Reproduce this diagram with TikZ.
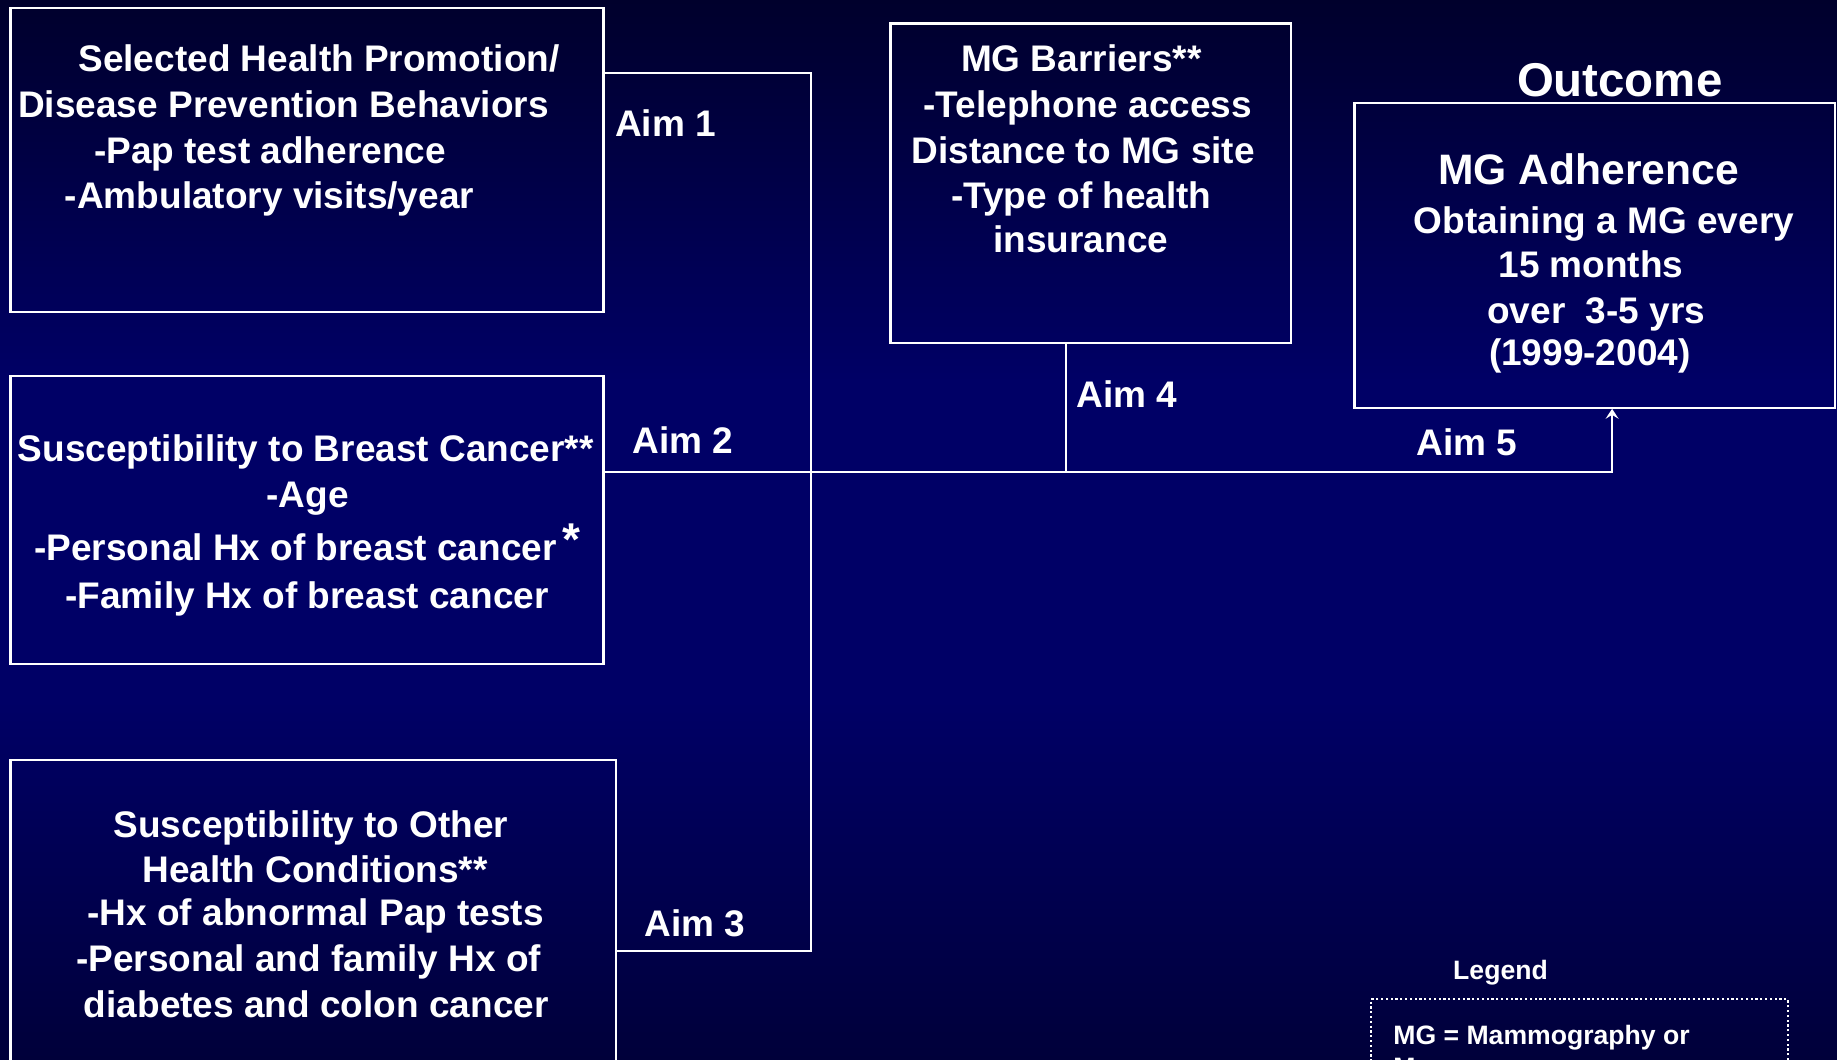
\documentclass[tikz,border=0pt]{standalone}
\usepackage{fontspec}
\setmainfont{Liberation Sans}
\usetikzlibrary{fit,arrows.meta}
\definecolor{bgtop}{RGB}{0,0,44}
\definecolor{bgmid}{RGB}{0,0,102}
\definecolor{bgbot}{RGB}{0,0,58}
\tikzset{
  box/.style={draw=white, line width=1.1pt, inner sep=0pt},
  legbox/.style={draw=white, line width=1pt, dash pattern=on 1.1pt off 1.3pt, inner sep=0pt},
  txt/.style={text=white, inner sep=0pt, font=\bfseries\fontsize{18.5}{22}\selectfont},
  bigtxt/.style={text=white, inner sep=0pt, font=\bfseries\fontsize{23.7}{28}\selectfont},
  headtxt/.style={text=white, inner sep=0pt, font=\bfseries\fontsize{21.3}{25}\selectfont},
  smalltxt/.style={text=white, inner sep=0pt, font=\bfseries\fontsize{13.3}{16}\selectfont},
  conn/.style={draw=white, line width=1.1pt},
}
\begin{document}
\begin{tikzpicture}[x=0.5pt,y=-0.5pt]
\useasboundingbox (0,0) rectangle (1837,1060);
\shade[top color=bgtop, bottom color=bgmid] (0,0) rectangle (1837,382);
\fill[bgmid] (0,380) rectangle (1837,702);
\shade[top color=bgmid, bottom color=bgbot] (0,700) rectangle (1837,1060);

% boxes
\node[box, fit={(10.5,8.2) (603.4,311.6)}] (b1) {};
\node[box, fit={(10.5,376) (603.4,664.3)}] (b2) {};
\node[box, fit={(10.5,760.3) (616.3,1080)}] (b3) {};
\node[box, fit={(890.4,23.4) (1291.1,343.3)}] (b4) {};
\node[box, fit={(1354.4,103.1) (1834.7,407.7)}] (b5) {};
\node[legbox, fit={(1371,999.4) (1788,1080)}] (leg) {};

% box 1 text
\node[txt, anchor=base] (b1a) at (319,71.6) {Selected Health Promotion/};
\node[txt, anchor=base] (b1b) at (283.5,117.3) {Disease Prevention Behaviors};
\node[txt, anchor=base] (b1c) at (270,163) {-Pap test adherence};
\node[txt, anchor=base] (b1d) at (269.5,208.7) {-Ambulatory visits/year};

% box 2 text
\node[txt, anchor=base] (b2a) at (305.8,461.7) {Susceptibility to Breast Cancer**};
\node[txt, anchor=base] (b2b) at (307.5,507.4) {-Age};
\node[txt, anchor=base] (b2c) at (307.5,560) {-Personal Hx of breast cancer\,\raisebox{0.12em}{\fontsize{23}{23}\selectfont *}};
\node[txt, anchor=base] (b2d) at (307,608.2) {-Family Hx of breast cancer};

% box 3 text
\node[txt, anchor=base] (b3a) at (311,837.8) {Susceptibility to Other};
\node[txt, anchor=base] (b3b) at (315,882.3) {Health Conditions**};
\node[txt, anchor=base] (b3c) at (315.7,925.7) {-Hx of abnormal Pap tests};
\node[txt, anchor=base] (b3d) at (308.7,971.4) {-Personal and family Hx of};
\node[txt, anchor=base] (b3e) at (316.3,1017) {diabetes and colon cancer};

% box 4 text
\node[txt, anchor=base] (b4a) at (1081.4,71.6) {MG Barriers**};
\node[txt, anchor=base] (b4b) at (1087.8,117.3) {-Telephone access};
\node[txt, anchor=base] (b4c) at (1083.1,163) {Distance to MG site};
\node[txt, anchor=base] (b4d) at (1081.4,208.7) {-Type of health};
\node[txt, anchor=base] (b4e) at (1080.8,252) {insurance};

% outcome
\node[bigtxt, anchor=base] (out) at (1619.7,96.7) {Outcome};
\node[headtxt, anchor=base] (b5a) at (1588.7,184.9) {MG Adherence};
\node[txt, anchor=base] (b5b) at (1603.9,233.3) {Obtaining a MG every};
\node[txt, anchor=base] (b5c) at (1591,277.8) {15 months};
\node[txt, anchor=base] (b5d) at (1596.3,323.5) {over\ \ 3-5 yrs};
\node[txt, anchor=base] (b5e) at (1589.8,365.6) {(1999-2004)};

% aims
\node[txt, anchor=base] (aim1) at (665.5,136) {Aim 1};
\node[txt, anchor=base] (aim2) at (683,453.5) {Aim 2};
\node[txt, anchor=base] (aim3) at (694.7,936.2) {Aim 3};
\node[txt, anchor=base] (aim4) at (1127,407.8) {Aim 4};
\node[txt, anchor=base] (aim5) at (1466.8,455.9) {Aim 5};

% legend
\node[smalltxt, anchor=base] (legt) at (1500.5,979.5) {Legend};
\node[smalltxt, anchor=base west] (leg1) at (1393,1044) {MG = Mammography or};
\node[smalltxt, anchor=base west] (leg2) at (1393,1076) {M};

% junctions
\coordinate (j1) at (810.7,72.6);
\coordinate (j2) at (810.7,472.2);
\coordinate (j3) at (810.7,951.3);
\coordinate (j4) at (1066.2,472.2);
\coordinate (j5) at (1612.1,472.2);

% connectors
\draw[conn] (b1.east |- j1) -- (j1) -- (j3) -- (b3.east |- j3);
\draw[conn, -{Stealth[length=5pt,width=6.5pt,inset=2pt]}] (b2.east |- j2) -- (j5) -- (j5 |- b5.south);
\draw[conn] (j4 |- b4.south) -- (j4);
\end{tikzpicture}
\end{document}
